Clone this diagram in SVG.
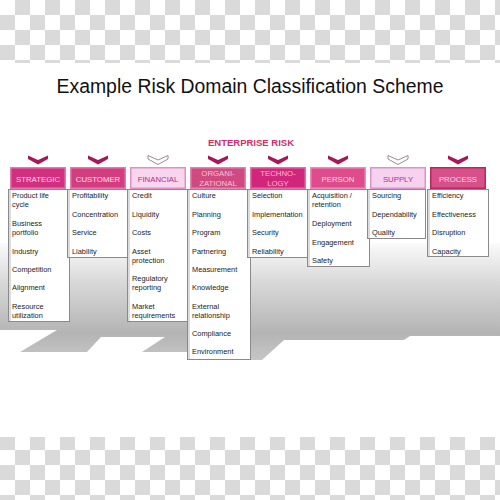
<svg xmlns="http://www.w3.org/2000/svg" width="500" height="500" viewBox="0 0 500 500">
<defs>
<pattern id="chk" width="30" height="30" patternUnits="userSpaceOnUse">
<rect width="30" height="30" fill="#ffffff"/>
<rect x="15" y="0" width="15" height="15" fill="#dadada"/>
<rect x="0" y="15" width="15" height="15" fill="#dadada"/>
</pattern>
<linearGradient id="shd" x1="0" y1="238" x2="0" y2="360" gradientUnits="userSpaceOnUse">
<stop offset="0" stop-color="#ffffff"/>
<stop offset="0.35" stop-color="#dadada"/>
<stop offset="0.78" stop-color="#b4b4b4"/>
<stop offset="1" stop-color="#c6c6c6"/>
</linearGradient>
<style>
.t{font-family:"Liberation Sans",Arial,sans-serif;}
.title{font-size:19.4px;fill:#111;}
.er{font-size:9.5px;font-weight:bold;fill:#c8306c;}
.hd{font-size:7.8px;text-anchor:middle;}
.it{font-size:7.4px;fill:#222;}
.lst{fill:#ffffff;stroke:#8a8a8a;stroke-width:1;}
.lsh{fill:#dcdcdc;}
.chd{fill:#a81858;}
.chl{fill:#ffffff;stroke:#a08898;stroke-width:1;}
</style>
</defs>
<rect width="500" height="500" fill="url(#chk)"/>
<rect x="0" y="63" width="500" height="374" fill="#ffffff"/>
<path d="M0,243 L500,243 L500,336 L410,336 L404,340 L284,340 L262,360 L187,360 L187,352 L142,352 L165,337 L101,337 L87,352 L20,352 L57,330 L0,330 Z" fill="url(#shd)"/>
<text class="t title" x="250" y="93" text-anchor="middle">Example Risk Domain Classification Scheme</text>
<text class="t er" x="251" y="146" text-anchor="middle">ENTERPRISE RISK</text>

<g id="strategic">
<rect class="lst" x="8.5" y="189.5" width="61" height="132"/><rect class="lsh" x="9" y="190" width="2" height="131"/>
<polygon class="chd" points="28,155.5 38,160 48,155.5 48,159 38,164.5 28,159"/>
<rect x="10" y="167" width="56" height="22" fill="#e27ab0"/><rect x="11.5" y="168.5" width="53" height="19" fill="#d2307e"/>
<text class="t hd" x="38" y="182" fill="#ffd6ea">STRATEGIC</text>
<text class="t it" x="12" y="198">Product life</text><text class="t it" x="12" y="207">cycle</text>
<text class="t it" x="12" y="226">Business</text><text class="t it" x="12" y="235">portfolio</text>
<text class="t it" x="12" y="253.5">Industry</text>
<text class="t it" x="12" y="271.5">Competition</text>
<text class="t it" x="12" y="290">Alignment</text>
<text class="t it" x="12" y="308.5">Resource</text><text class="t it" x="12" y="317.5">utilization</text>
</g>

<g id="customer">
<rect class="lst" x="67.5" y="189.5" width="60" height="68"/><rect class="lsh" x="68" y="190" width="2" height="67"/>
<polygon class="chd" points="88,155.5 98,160 108,155.5 108,159 98,164.5 88,159"/>
<rect x="70" y="167" width="56" height="22" fill="#e27ab0"/><rect x="71.5" y="168.5" width="53" height="19" fill="#d43c80"/>
<text class="t hd" x="98" y="182" fill="#ffe0f0">CUSTOMER</text>
<text class="t it" x="72" y="198">Profitability</text>
<text class="t it" x="72" y="216.5">Concentration</text>
<text class="t it" x="72" y="235">Service</text>
<text class="t it" x="72" y="253.5">Liability</text>
</g>

<g id="financial">
<rect class="lst" x="127.5" y="189.5" width="60" height="132"/><rect class="lsh" x="128" y="190" width="2" height="131"/>
<polygon class="chl" points="148,155.5 158,160 168,155.5 168,159 158,164.5 148,159"/>
<rect x="130" y="167" width="56" height="22" fill="#e090c8"/><rect x="131.5" y="168.5" width="53" height="19" fill="#f8d6ee"/>
<text class="t hd" x="158" y="182" fill="#b82c7e">FINANCIAL</text>
<text class="t it" x="132" y="198">Credit</text>
<text class="t it" x="132" y="216.5">Liquidity</text>
<text class="t it" x="132" y="235">Costs</text>
<text class="t it" x="132" y="253.5">Asset</text><text class="t it" x="132" y="262.5">protection</text>
<text class="t it" x="132" y="281">Regulatory</text><text class="t it" x="132" y="290">reporting</text>
<text class="t it" x="132" y="308.5">Market</text><text class="t it" x="132" y="317.5">requirements</text>
</g>

<g id="organizational">
<rect class="lst" x="187.5" y="189.5" width="63" height="170"/><rect class="lsh" x="188" y="190" width="2" height="169"/>
<polygon class="chd" points="208,155.5 218,160 228,155.5 228,159 218,164.5 208,159"/>
<rect x="190" y="167" width="56" height="22" fill="#e084b0"/><rect x="191.5" y="168.5" width="53" height="19" fill="#cf4a80"/>
<text class="t hd" x="218" y="175.5" fill="#f8c4dc">ORGANI-</text><text class="t hd" x="218" y="185.5" fill="#f8c4dc">ZATIONAL</text>
<text class="t it" x="192" y="198">Culture</text>
<text class="t it" x="192" y="216.5">Planning</text>
<text class="t it" x="192" y="235">Program</text>
<text class="t it" x="192" y="253.5">Partnering</text>
<text class="t it" x="192" y="271.5">Measurement</text>
<text class="t it" x="192" y="290">Knowledge</text>
<text class="t it" x="192" y="308.5">External</text><text class="t it" x="192" y="317.5">relationship</text>
<text class="t it" x="192" y="335.5">Compliance</text>
<text class="t it" x="192" y="354">Environment</text>
</g>

<g id="technology">
<rect class="lst" x="247.5" y="189.5" width="60" height="68"/><rect class="lsh" x="248" y="190" width="2" height="67"/>
<polygon class="chd" points="268,155.5 278,160 288,155.5 288,159 278,164.5 268,159"/>
<rect x="250" y="167" width="56" height="22" fill="#e070a8"/><rect x="251.5" y="168.5" width="53" height="19" fill="#d1267c"/>
<text class="t hd" x="278" y="175.5" fill="#f8bcd8">TECHNO-</text><text class="t hd" x="278" y="185.5" fill="#f8bcd8">LOGY</text>
<text class="t it" x="252" y="198">Selection</text>
<text class="t it" x="252" y="216.5">Implementation</text>
<text class="t it" x="252" y="235">Security</text>
<text class="t it" x="252" y="253.5">Reliability</text>
</g>

<g id="person">
<rect class="lst" x="307.5" y="189.5" width="62" height="77"/><rect class="lsh" x="308" y="190" width="2" height="76"/>
<polygon class="chd" points="328,155.5 338,160 348,155.5 348,159 338,164.5 328,159"/>
<rect x="310" y="167" width="56" height="22" fill="#ec8cbc"/><rect x="311.5" y="168.5" width="53" height="19" fill="#de4c8c"/>
<text class="t hd" x="338" y="182" fill="#ffdcee">PERSON</text>
<text class="t it" x="312" y="198">Acquisition /</text><text class="t it" x="312" y="207">retention</text>
<text class="t it" x="312" y="226">Deployment</text>
<text class="t it" x="312" y="244.5">Engagement</text>
<text class="t it" x="312" y="263">Safety</text>
</g>

<g id="supply">
<rect class="lst" x="367.5" y="189.5" width="58" height="49"/><rect class="lsh" x="368" y="190" width="2" height="48"/>
<polygon class="chl" points="388,155.5 398,160 408,155.5 408,159 398,164.5 388,159"/>
<rect x="370" y="167" width="56" height="22" fill="#d894d0"/><rect x="371.5" y="168.5" width="53" height="19" fill="#f6d2ee"/>
<text class="t hd" x="398" y="182" fill="#b03098">SUPPLY</text>
<text class="t it" x="372" y="198">Sourcing</text>
<text class="t it" x="372" y="216.5">Dependability</text>
<text class="t it" x="372" y="235">Quality</text>
</g>

<g id="process">
<rect class="lst" x="427.5" y="189.5" width="61" height="67"/><rect class="lsh" x="428" y="190" width="2" height="66"/>
<polygon class="chd" points="448,155.5 458,160 468,155.5 468,159 458,164.5 448,159"/>
<rect x="430" y="167" width="56" height="22" fill="#b8285e"/><rect x="431.5" y="168.5" width="53" height="19" fill="#d8508a"/>
<text class="t hd" x="458" y="182" fill="#ffd4e8">PROCESS</text>
<text class="t it" x="432" y="198">Efficiency</text>
<text class="t it" x="432" y="216.5">Effectiveness</text>
<text class="t it" x="432" y="235">Disruption</text>
<text class="t it" x="432" y="253.5">Capacity</text>
</g>
<g id="connectors"/>
</svg>
